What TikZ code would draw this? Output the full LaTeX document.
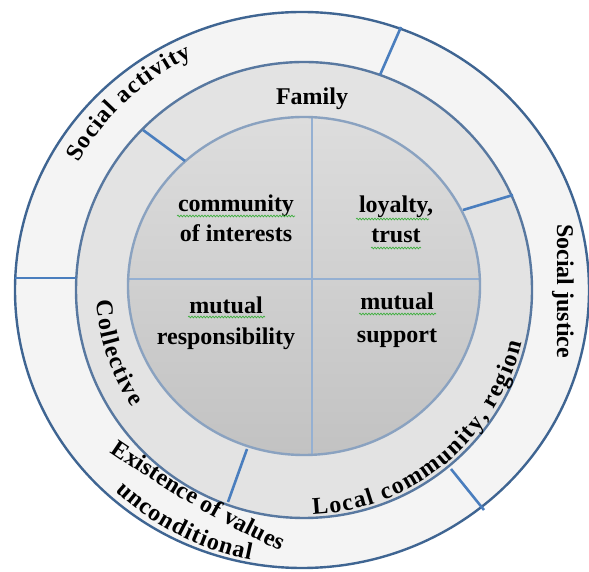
\documentclass[tikz,border=0pt]{standalone}
\usepackage{fontspec}
\setmainfont{Liberation Serif}
\usetikzlibrary{decorations.text,decorations.pathmorphing}
\definecolor{outerfill}{HTML}{F4F4F4}
\definecolor{midfill}{HTML}{E3E3E3}
\definecolor{intop}{HTML}{DDDDDD}
\definecolor{inbot}{HTML}{C2C2C2}
\definecolor{outerline}{HTML}{3F6592}
\definecolor{midline}{HTML}{5878A0}
\definecolor{innerline}{HTML}{8AA2C0}
\definecolor{divline}{HTML}{95B0D2}
\definecolor{spokecol}{HTML}{4A7EBE}
\definecolor{squig}{HTML}{3FAF3F}
\begin{document}
\begin{tikzpicture}[x=1bp,y=1bp,
  lbl/.style={font=\bfseries\fontsize{24bp}{28bp}\selectfont, inner sep=0pt, anchor=base},
  spokeline/.style={draw=spokecol, line width=2.6bp},
  arctext/.style={decorate, decoration={text along path, text align={fit to path}, text={|\bfseries\fontsize{24bp}{28bp}\selectfont|#1}}},
  squiggle/.style={draw=squig, line width=0.7bp, decorate, decoration={snake, amplitude=0.9bp, segment length=3bp}}
]
\useasboundingbox (0,0) rectangle (589,572);
\coordinate (C) at (303,282);
% rings
\filldraw[fill=outerfill, draw=outerline, line width=2.4bp] (302,282) ellipse [x radius=287bp, y radius=278bp];
\filldraw[fill=midfill, draw=midline, line width=2.4bp] (304,282) circle [radius=228bp];
\shade[top color=intop, bottom color=inbot] (304,286) ellipse [x radius=176bp, y radius=169bp];
\begin{scope}
  \clip (304,286) ellipse [x radius=176bp, y radius=169bp];
  \coordinate (vt) at (312,470); \coordinate (vb) at (312,100);
  \coordinate (hl) at (110,293); \coordinate (hr) at (500,293);
  \draw[divline, line width=2.4bp] (vt) -- (vb);
  \draw[divline, line width=2.4bp] (hl) -- (hr);
\end{scope}
\draw[innerline, line width=2.4bp] (304,286) ellipse [x radius=176bp, y radius=169bp];
% spokes
\coordinate (m1a) at (143,442); \coordinate (m1b) at (185,411);
\coordinate (m2a) at (463,362); \coordinate (m2b) at (513,377);
\coordinate (m3a) at (247,123); \coordinate (m3b) at (228,70);
\coordinate (o1a) at (401,545); \coordinate (o1b) at (380,497);
\coordinate (o2a) at (15,294);  \coordinate (o2b) at (76,294);
\coordinate (o3a) at (451,103); \coordinate (o3b) at (484,62);
\draw[spokeline] (m1a) -- (m1b);
\draw[spokeline] (m2a) -- (m2b);
\draw[spokeline] (m3a) -- (m3b);
\draw[spokeline] (o1a) -- (o1b);
\draw[spokeline] (o2a) -- (o2b);
\draw[spokeline] (o3a) -- (o3b);
% inner texts
\node[lbl] (t1a) at (236,360) {community};
\node[lbl] (t1b) at (236,330) {of interests};
\node[lbl] (t2a) at (396,359) {loyalty,};
\node[lbl] (t2b) at (396,329) {trust};
\node[lbl] (t3a) at (226,258) {mutual};
\node[lbl] (t3b) at (226,227) {responsibility};
\node[lbl] (t4a) at (397,262) {mutual};
\node[lbl] (t4b) at (397,229) {support};
% squiggles
\draw[squiggle] (177,356) -- (295,356);
\draw[squiggle] (356,353) -- (429,353);
\draw[squiggle] (371,324) -- (421,324);
\draw[squiggle] (188,255) -- (265,255);
\draw[squiggle] (359,258) -- (436,258);
% ring texts
\node[lbl] (fam) at (312,467) {Family};
\node[lbl, anchor=center, rotate=-90] (sj) at (563,281) {Social justice};
\path[arctext=Collective] (C) ++(183:207bp) arc[start angle=183, end angle=214.5, radius=207bp];
\path[arctext={Local community, region}] (C) ++(272.5:225bp) arc[start angle=272.5, end angle=346.5, radius=225bp];
\path[arctext={Social activity}] (C) ++(150.5:258bp) arc[start angle=150.5, end angle=115.5, radius=258bp];
\coordinate (ex1) at (110,120); \coordinate (ex2) at (280,21);
\path[arctext={Existence of values}] (ex1) to[bend right=4] (ex2);
\path[arctext=unconditional] (C) ++(227:275bp) arc[start angle=227, end angle=259, radius=275bp];
\end{tikzpicture}
\end{document}
